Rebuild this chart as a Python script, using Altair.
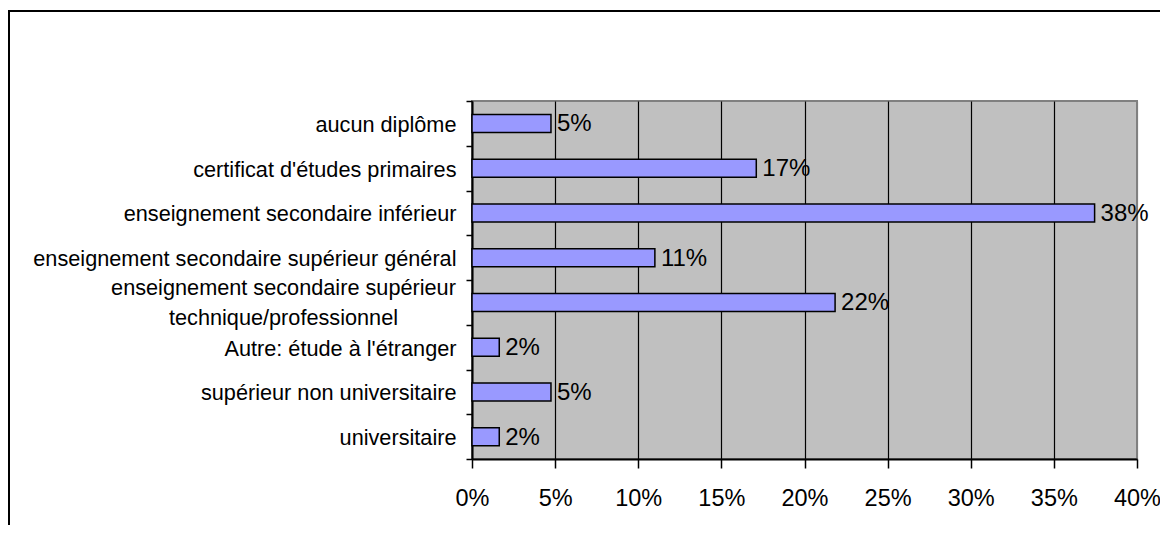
import altair as alt
import pandas as pd

categories = [
    "aucun diplôme",
    "certificat d'études primaires",
    "enseignement secondaire inférieur",
    "enseignement secondaire supérieur général",
    "enseignement secondaire supérieur technique/professionnel",
    "Autre: étude à l'étranger",
    "supérieur non universitaire",
    "universitaire",
]
values = [0.0475, 0.171, 0.3745, 0.110, 0.2184, 0.0164, 0.0475, 0.0164]
value_labels = ["5%", "17%", "38%", "11%", "22%", "2%", "5%", "2%"]
x_ticks = [0, 0.05, 0.10, 0.15, 0.20, 0.25, 0.30, 0.35, 0.40]

WRAPPED = "enseignement secondaire supérieur technique/professionnel"
WRAPPED_LINES = ["enseignement secondaire supérieur", "technique/professionnel"]

df = pd.DataFrame({"cat": categories, "val": values, "lab": value_labels})

FONT = "Liberation Sans"
label_expr = (
    f"datum.label == '{WRAPPED}'"
    f" ? ['{WRAPPED_LINES[0]}', '{WRAPPED_LINES[1]}']"
    " : datum.label"
)
is_wrapped = f"datum.value == '{WRAPPED}'"

y_enc = alt.Y(
    "cat:N",
    sort=categories,
    title=None,
    scale=alt.Scale(paddingInner=0, paddingOuter=0),
    axis=alt.Axis(
        domainColor="black", domainWidth=2,
        tickColor="black", tickSize=6, tickWidth=1.5, tickBand="extent",
        labelFont=FONT, labelFontSize=21.7, labelColor="black",
        labelLimit=600, labelLineHeight=30,
        labelPadding={"condition": {"test": is_wrapped, "value": 183}, "value": 10},
        labelAlign={"condition": {"test": is_wrapped, "value": "center"}, "value": "right"},
        labelOffset={"condition": {"test": is_wrapped, "value": -15}, "value": 1},
        labelExpr=label_expr, grid=False,
    ),
)
x_enc = alt.X(
    "val:Q",
    title=None,
    scale=alt.Scale(domain=[0, 0.4], nice=False, zero=True),
    axis=alt.Axis(
        values=x_ticks, format=".0%",
        domainColor="black", domainWidth=2,
        tickColor="black", tickSize=9, tickWidth=1.5,
        labelFont=FONT, labelFontSize=23.5, labelColor="black",
        labelPadding=18, labelFlush=False,
        grid=True, gridWidth=1.2,
        gridColor={"condition": {"test": "datum.value >= 0.4", "value": "#808080"}, "value": "#000000"},
    ),
)

base = alt.Chart(df)
bars = base.mark_bar(fill="#9999FF", stroke="black", strokeWidth=1.5, size=18).encode(x=x_enc, y=y_enc)
texts = base.mark_text(
    align="left", baseline="middle", dx=6, dy=1, font=FONT, fontSize=24, color="black"
).encode(x="val:Q", y=alt.Y("cat:N", sort=categories), text="lab:N")

frame = alt.Chart(alt.Data(values=[{}]))
left_border = frame.mark_rule(color="black", strokeWidth=2).encode(
    x=alt.value(-463), y=alt.value(-90), y2=alt.value(700)
)
top_border = frame.mark_rule(color="black", strokeWidth=2).encode(
    x=alt.value(-464), x2=alt.value(900), y=alt.value(-90)
)

chart = (
    alt.layer(bars, texts, left_border, top_border)
    .properties(
        width=665,
        height=358,
        padding={"left": 464, "top": 93, "right": 23, "bottom": 66},
        autosize=alt.AutoSizeParams(type="none"),
        background="white",
    )
    .configure_view(fill="#C0C0C0", stroke="#808080", strokeWidth=2)
)

chart.save("out.html", embed_options={"renderer": "svg", "actions": False})
